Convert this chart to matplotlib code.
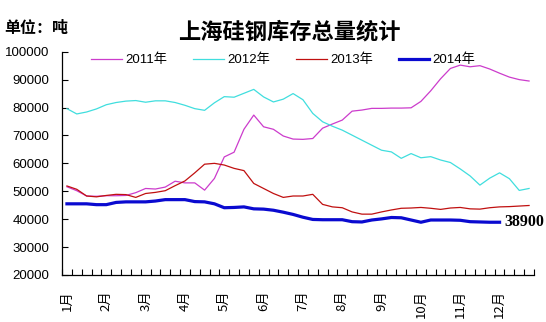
import numpy as np
import matplotlib
matplotlib.use('Agg')
import matplotlib.pyplot as plt
from matplotlib.ticker import FixedLocator

plt.rcParams['font.family'] = ['Liberation Sans', 'Noto Sans CJK SC', 'DejaVu Sans']

# weekly inventory, 48 weeks per year (4 per month)
months = ['1月', '2月', '3月', '4月', '5月', '6月', '7月', '8月', '9月', '10月', '11月', '12月']
series_names = ['2011年', '2012年', '2013年', '2014年']

d2011 = [51600, 50200, 48300, 48200, 48400, 48400, 48500, 49500, 51000, 50800, 51500, 53600,
         53000, 53000, 50400, 54600, 62300, 64000, 72200, 77300, 73100, 72200, 69800, 68700,
         68600, 68900, 72600, 74100, 75500, 78700, 79100, 79700, 79700, 79800, 79800, 79900,
         82200, 86000, 90300, 94000, 95200, 94600, 95000, 93800, 92300, 90900, 90000, 89500]
d2012 = [79600, 77700, 78400, 79500, 81000, 81800, 82300, 82500, 81900, 82400, 82400, 81800,
         80800, 79600, 79000, 81700, 83900, 83700, 85100, 86500, 83800, 82000, 83000, 85000,
         82800, 77900, 74900, 73300, 71900, 70100, 68300, 66500, 64700, 64100, 61800, 63500,
         62000, 62400, 61200, 60300, 58000, 55500, 52200, 54700, 56600, 54500, 50300, 51000]
d2013 = [51900, 50700, 48300, 48000, 48500, 48900, 48800, 47800, 49200, 49600, 50200, 52000,
         53700, 56600, 59700, 60000, 59400, 58200, 57400, 52800, 51000, 49200, 47800, 48300,
         48300, 48900, 45300, 44400, 44100, 42600, 41800, 41800, 42600, 43300, 43900, 44000,
         44200, 43900, 43500, 44000, 44200, 43700, 43600, 44100, 44400, 44500, 44700, 44900]
d2014 = [45500, 45500, 45500, 45200, 45200, 46000, 46200, 46200, 46200, 46500, 47000, 47000,
         47000, 46300, 46200, 45500, 44100, 44200, 44400, 43700, 43600, 43200, 42500, 41700,
         40700, 39900, 39800, 39800, 39800, 39100, 39000, 39700, 40100, 40600, 40500, 39700,
         38900, 39700, 39700, 39700, 39600, 39100, 39000, 38900, 38900]

colors = ['#cc3ccc', '#40dede', '#c01010', '#0a0ad0']
widths = [0.9, 0.9, 0.9, 2.3]

fig = plt.figure(figsize=(5.46, 3.22), dpi=100)
ax = fig.add_axes([0.1136, 0.146, 0.978 - 0.1136, 0.8394 - 0.146])

for name, vals, c, lw in zip(series_names, [d2011, d2012, d2013, d2014], colors, widths):
    ax.plot(np.arange(len(vals)), vals, color=c, lw=lw, label=name)

# last value of the current year
ax.annotate(f'{d2014[-1]}', xy=(len(d2014) - 1, d2014[-1]), xytext=(3.5, 0),
            textcoords='offset points', va='center', ha='left',
            fontsize=11.5, fontweight='bold', family='Liberation Serif',
            annotation_clip=False)

ax.set_xlim(-0.5, 47.5)
ax.set_ylim(20000, 100000)
ax.set_yticks(np.arange(20000, 100001, 10000))
ax.tick_params(axis='y', direction='in', length=4, width=0.8, labelsize=9.5, pad=9)

ax.set_xticks(np.arange(0, 48, 4))
ax.set_xticklabels(months, rotation=90, va='top', family='Noto Sans CJK SC', fontsize=9.5)
ax.xaxis.set_minor_locator(FixedLocator(np.arange(-0.5, 48, 1)))
ax.tick_params(axis='x', which='major', length=0, pad=11)
ax.tick_params(axis='x', which='minor', direction='in', length=4, width=0.8)

for s in ['top', 'right']:
    ax.spines[s].set_visible(False)
for s in ['left', 'bottom']:
    ax.spines[s].set_linewidth(0.9)

ax.legend(ncol=4, loc='center left', bbox_to_anchor=(0.155, 0.814),
          bbox_transform=fig.transFigure, frameon=False, fontsize=9.5,
          handlelength=2.3, handletextpad=0.25, columnspacing=2.0, borderpad=0)

fig.text(0.53, 0.90, '上海硅钢库存总量统计', ha='center', va='center',
         fontsize=16, fontweight='bold', family='Noto Sans CJK SC')
fig.text(0.008, 0.913, '单位：吨', ha='left', va='center',
         fontsize=11.5, fontweight='bold', family='Noto Sans CJK SC')

fig.savefig('out.png', dpi=100)
